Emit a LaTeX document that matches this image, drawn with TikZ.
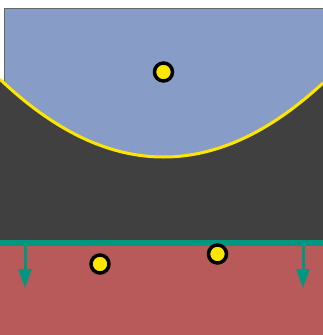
\documentclass[tikz,border=0pt]{standalone}
\usetikzlibrary{arrows.meta}
\begin{document}
\begin{tikzpicture}[x=1pt, y=-1pt, >={Triangle[width=13pt, length=19pt]},
		particle/.style={circle, draw=black, line width=3.5pt, fill=spotyellow, minimum size=18pt, inner sep=0pt}]
			\definecolor{skyfield}{RGB}{136, 156, 200}
			\definecolor{darkband}{RGB}{64, 64, 64}
			\definecolor{redfield}{RGB}{184, 90, 90}
			\definecolor{tealwall}{RGB}{0, 150, 128}
			\definecolor{spotyellow}{RGB}{255, 230, 0}
			\useasboundingbox[fill=white] (0,0) rectangle (323,335);
			% upper region with its thin frame
			\fill[skyfield] (4,8) rectangle (323,243);
			\draw[gray!80!black, line width=0.8pt] (4,243) -- (4,8) -- (323,8);
			% dark band below the curve
			\fill[darkband] (0,243) -- plot[domain=0:323, samples=100] (\x, {157-74*((\x-163.5)/159.5)^2}) -- (323,243) -- cycle;
			\draw[spotyellow, line width=3pt, domain=0:323, samples=100] plot (\x, {157-74*((\x-163.5)/159.5)^2});
			% lower region and the wall
			\fill[redfield] (0,243) rectangle (323,335);
			\coordinate (wallL) at (0,243);
			\coordinate (wallR) at (323,243);
			\draw[tealwall, line width=6pt] (wallL) -- (wallR);
			\coordinate (pushL) at (25,246);
			\coordinate (pushLend) at (25,288);
			\coordinate (pushR) at (303,246);
			\coordinate (pushRend) at (303,288);
			\draw[->, tealwall, line width=3pt] (pushL) -- (pushLend);
			\draw[->, tealwall, line width=3pt] (pushR) -- (pushRend);
			% particles
			\node[particle] (top) at (163.5,72) {};
			\node[particle] (lowL) at (100,264) {};
			\node[particle] (lowR) at (217.5,254) {};
		\end{tikzpicture}
\end{document}
